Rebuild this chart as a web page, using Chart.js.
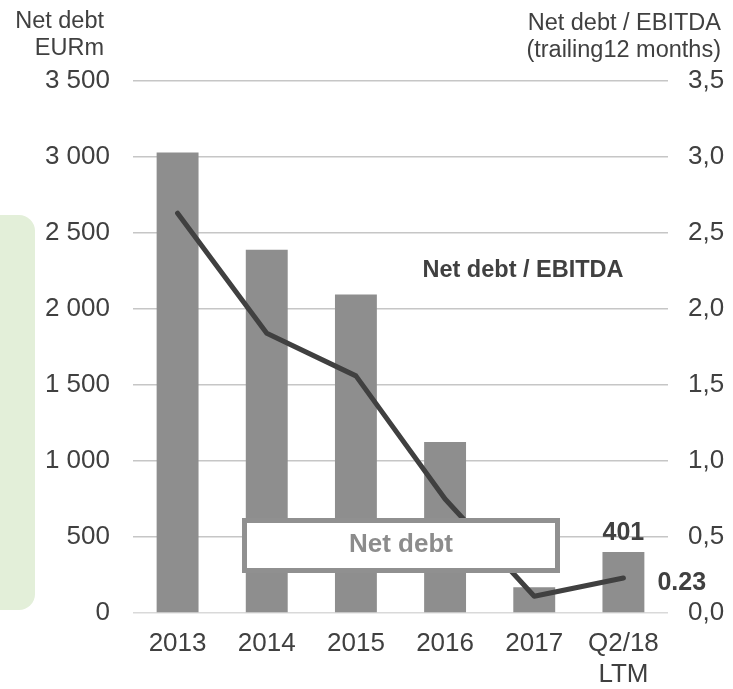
<!DOCTYPE html>
<html lang="en">
<head>
  <meta charset="UTF-8">
  <title>Net debt and Net debt / EBITDA</title>
  <script src="https://cdn.jsdelivr.net/npm/chart.js"></script>
  <style>
    html, body {
      margin: 0;
      padding: 0;
      background: #ffffff;
    }
    #chart {
      display: block;
    }
  </style>
</head>
<body>
  <canvas id="chart" width="733" height="689"></canvas>

  <script>
    // Chart data
    const categories = ['2013', '2014', '2015', '2016', '2017', ['Q2/18', 'LTM']];
    const netDebt = [3030, 2390, 2095, 1125, 170, 401];            // EURm
    const netDebtToEbitda = [2.63, 1.84, 1.56, 0.75, 0.11, 0.23];  // trailing 12 months
    const leftTicks = [0, 500, 1000, 1500, 2000, 2500, 3000, 3500];
    const rightTicks = [0, 0.5, 1, 1.5, 2, 2.5, 3, 3.5];

    const FONT = "'Liberation Sans', Arial, sans-serif";
    const TEXT = '#404040';
    const BAR = '#8e8e8e';

    // thousands with a space: 3 500
    function fmtThousands(v) {
      return String(v).replace(/\B(?=(\d{3})+(?!\d))/g, ' ');
    }

    // one decimal with a comma: 3,5
    function fmtRatio(v) {
      return v.toFixed(1).replace('.', ',');
    }

    const overlayPlugin = {
      id: 'overlay',
      beforeDraw(chart) {
        const ctx = chart.ctx;
        // light green panel on the left edge
        ctx.save();
        ctx.fillStyle = '#e3efd9';
        ctx.beginPath();
        ctx.roundRect(-20, 215, 55, 395, 16);
        ctx.fill();
        ctx.restore();
      },
      afterDraw(chart) {
        const ctx = chart.ctx;
        const x = chart.scales.x;
        const y = chart.scales.y;
        const y1 = chart.scales.y1;
        const last = categories.length - 1;

        ctx.save();

        // axis titles
        ctx.fillStyle = TEXT;
        ctx.font = '23.5px ' + FONT;
        ctx.textBaseline = 'alphabetic';
        ctx.textAlign = 'right';
        ctx.fillText('Net debt', 104, 28);
        ctx.fillText('EURm', 104, 55);
        ctx.fillText('Net debt / EBITDA', 721, 30);
        ctx.fillText('(trailing12 months)', 721, 57);

        // "Net debt" series box
        ctx.fillStyle = '#ffffff';
        ctx.fillRect(242, 518, 318, 55);
        ctx.strokeStyle = '#909090';
        ctx.lineWidth = 5;
        ctx.strokeRect(244.5, 520.5, 313, 50);
        ctx.fillStyle = '#8c8c8c';
        ctx.font = 'bold 26px ' + FONT;
        ctx.textAlign = 'center';
        ctx.textBaseline = 'middle';
        ctx.fillText('Net debt', 401, 545);

        // line series name
        ctx.fillStyle = TEXT;
        ctx.font = 'bold 23.5px ' + FONT;
        ctx.fillText('Net debt / EBITDA', 523, 271);

        // value labels on the last period
        ctx.font = 'bold 25px ' + FONT;
        const bx = x.getPixelForValue(last);
        ctx.fillText(String(netDebt[last]), bx, y.getPixelForValue(netDebt[last]) - 19);

        ctx.textAlign = 'left';
        ctx.fillText(netDebtToEbitda[last].toFixed(2), bx + 34,
          y1.getPixelForValue(netDebtToEbitda[last]) + 5);

        ctx.restore();
      }
    };

    const ctx = document.getElementById('chart').getContext('2d');
    new Chart(ctx, {
      data: {
        labels: categories,
        datasets: [
          {
            type: 'line',
            label: 'Net debt / EBITDA',
            data: netDebtToEbitda,
            yAxisID: 'y1',
            borderColor: '#404040',
            borderWidth: 5,
            borderCapStyle: 'round',
            borderJoinStyle: 'round',
            pointRadius: 0,
            tension: 0,
            order: 0
          },
          {
            type: 'bar',
            label: 'Net debt',
            data: netDebt,
            yAxisID: 'y',
            backgroundColor: BAR,
            categoryPercentage: 1,
            barPercentage: 0.47,
            order: 1
          }
        ]
      },
      options: {
        responsive: false,
        animation: false,
        devicePixelRatio: 1,
        layout: {
          padding: { top: 81, left: 0, right: 0, bottom: 0 }
        },
        plugins: {
          legend: { display: false },
          tooltip: { enabled: false }
        },
        scales: {
          x: {
            offset: true,
            grid: { display: false, drawTicks: false },
            border: { display: false },
            ticks: {
              color: TEXT,
              font: { family: FONT, size: 26 },
              padding: 15,
              maxRotation: 0
            },
            afterFit(scale) { scale.height = 76; }
          },
          y: {
            position: 'left',
            min: 0,
            max: 3500,
            afterBuildTicks(scale) {
              scale.ticks = leftTicks.map(v => ({ value: v }));
            },
            grid: {
              drawTicks: false,
              lineWidth: 1.5,
              color: c => (c.tick && c.tick.value === 0 ? '#d9d9d9' : '#c6c6c6')
            },
            border: { display: false },
            ticks: {
              color: TEXT,
              font: { family: FONT, size: 26 },
              padding: 23,
              callback: v => fmtThousands(v)
            },
            afterFit(scale) { scale.width = 133; }
          },
          y1: {
            position: 'right',
            min: 0,
            max: 3.5,
            afterBuildTicks(scale) {
              scale.ticks = rightTicks.map(v => ({ value: v }));
            },
            grid: { display: false, drawTicks: false },
            border: { display: false },
            ticks: {
              color: TEXT,
              font: { family: FONT, size: 26 },
              padding: 20,
              callback: v => fmtRatio(v)
            },
            afterFit(scale) { scale.width = 65; }
          }
        }
      },
      plugins: [overlayPlugin]
    });
  </script>
</body>
</html>
